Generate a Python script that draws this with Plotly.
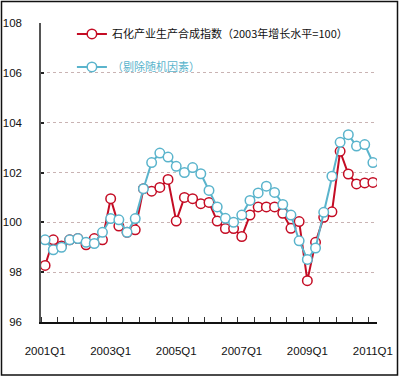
import plotly.graph_objects as go

quarters = [f"{y}Q{q}" for y in range(2001, 2012) for q in range(1, 5)][:41]
tick_labels = ["2001Q1", "2003Q1", "2005Q1", "2007Q1", "2009Q1", "2011Q1"]

red_vals = [98.27, 99.3, 99.05, 99.3, 99.35, 99.1, 99.35, 99.3, 100.95, 99.85,
            99.6, 99.7, 101.35, 101.25, 101.4, 101.72, 100.05, 101.0, 100.95, 100.75,
            100.8, 100.05, 99.75, 99.75, 99.43, 100.29, 100.62, 100.62, 100.62, 100.36,
            99.76, 100.03, 97.66, 99.2, 100.2, 100.42, 102.85, 101.94, 101.54, 101.58,
            101.6]
blue_vals = [99.3, 98.9, 99.0, 99.3, 99.35, 99.2, 99.15, 99.6, 100.15, 100.1,
             99.6, 100.15, 101.35, 102.4, 102.78, 102.62, 102.25, 102.0, 102.2, 101.95,
             101.28, 100.62, 100.16, 100.0, 100.29, 100.88, 101.18, 101.45, 101.2, 100.72,
             100.29, 99.26, 98.51, 98.97, 100.4, 101.85, 103.21, 103.52, 103.06, 103.12,
             102.4]

red_name = "石化产业生产合成指数（2003年增长水平=100）"
blue_name = "（剔除随机因素）"

RED = "#c40c24"
BLUE = "#5ab4cc"

xi = list(range(len(quarters)))

fig = go.Figure()
fig.add_trace(go.Scatter(
    x=xi, y=red_vals, mode="lines+markers", name=red_name, legendgroup="a",
    line=dict(color=RED, width=2),
    marker=dict(symbol="circle", size=9.5, color="white", line=dict(color=RED, width=1.5)),
    customdata=quarters,
))
fig.add_trace(go.Scatter(
    x=xi, y=blue_vals, mode="lines+markers",
    name=f"<span style='color:{BLUE}'>{blue_name}</span>", legendgroup="b",
    line=dict(color=BLUE, width=2),
    marker=dict(symbol="circle", size=9.5, color="white", line=dict(color=BLUE, width=1.5)),
    customdata=quarters,
))

tick_pos = [quarters.index(t) for t in tick_labels]

num_font = dict(family="Liberation Sans Narrow, Liberation Sans, sans-serif", size=11.5, color="#111")

fig.update_layout(
    template="none",
    width=400, height=377,
    margin=dict(l=41, r=23, t=23, b=55, autoexpand=False),
    paper_bgcolor="white", plot_bgcolor="white",
    showlegend=True,
    legend=dict(x=0.092, y=1.012, xanchor="left", yanchor="top",
                bgcolor="rgba(0,0,0,0)", tracegroupgap=14,
                font=dict(family="Noto Sans CJK SC", size=11, color="#111"),
                itemwidth=30),
    xaxis=dict(
        range=[-0.5, 40.5], tickmode="array", tickvals=tick_pos, ticktext=tick_labels,
        ticks="", showgrid=False, zeroline=False, automargin=False,
        showline=True, linecolor="#111", linewidth=1.5,
        tickfont=num_font, ticklabelstandoff=17,
        minor=dict(tickmode="linear", tick0=1.5, dtick=2, ticks="inside",
                   ticklen=5, tickcolor="#333", tickwidth=1, showgrid=False),
    ),
    yaxis=dict(
        range=[96, 108], tickmode="array", tickvals=[96, 98, 100, 102, 104, 106, 108],
        showgrid=True, gridcolor="#c9b3b3", griddash="dot", gridwidth=1,
        zeroline=False, automargin=False, showline=True, linecolor="#555", linewidth=1.5,
        ticks="inside", ticklen=3, tickcolor="#222", tickwidth=2,
        tickfont=num_font, ticklabelstandoff=15,
    ),
)

fig.add_shape(type="rect", xref="paper", yref="paper",
              x0=(1.5 - 41) / 336, x1=(397.5 - 41) / 336,
              y0=(322 - 375) / 299, y1=(322 - 1.5) / 299,
              line=dict(color="#111", width=1.5), fillcolor="rgba(0,0,0,0)", layer="below")

fig.write_html("out.html", config={"displayModeBar": False},
               post_script="document.body.style.margin='0';document.body.style.overflow='hidden';")
